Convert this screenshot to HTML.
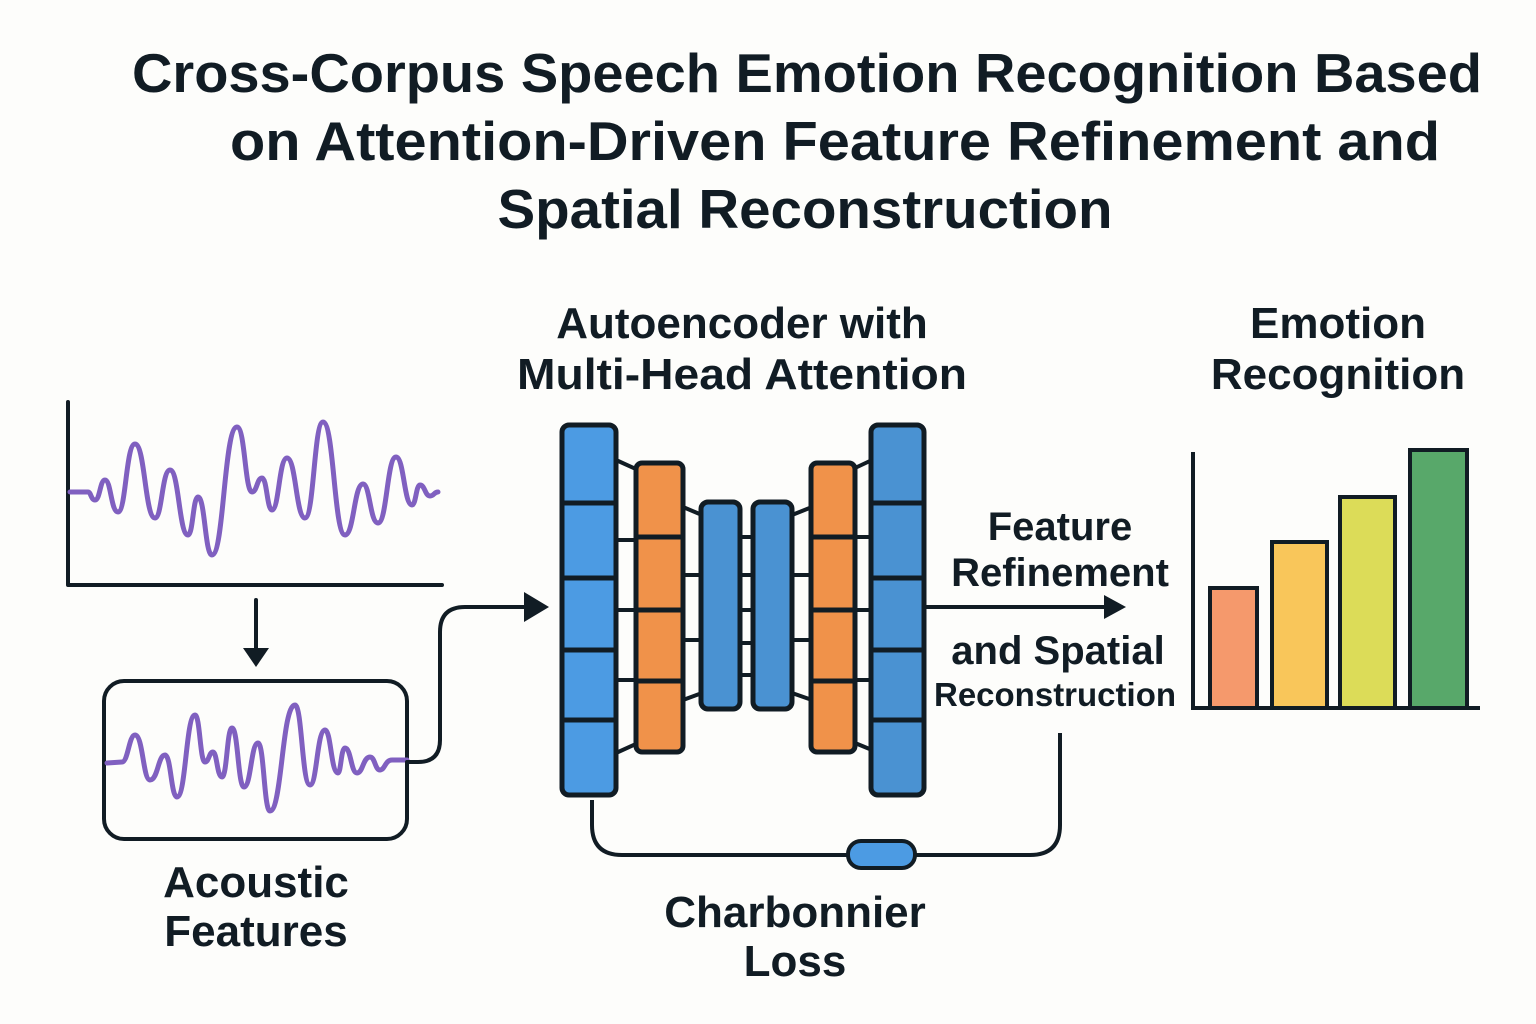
<!DOCTYPE html>
<html><head><style>
body{margin:0;background:#fdfdfb;}
svg{display:block;}
text{font-family:"Liberation Sans",sans-serif;font-weight:bold;fill:#111c24;text-anchor:middle;}
</style></head><body>
<svg width="1536" height="1024" viewBox="0 0 1536 1024">
<rect width="1536" height="1024" fill="#fdfdfb"/>
<text x="807" y="92" font-size="55" textLength="1350" lengthAdjust="spacingAndGlyphs">Cross-Corpus Speech Emotion Recognition Based</text>
<text x="835" y="160" font-size="55" textLength="1210" lengthAdjust="spacingAndGlyphs">on Attention-Driven Feature Refinement and</text>
<text x="805" y="228" font-size="55" textLength="615" lengthAdjust="spacingAndGlyphs">Spatial Reconstruction</text>

<text x="742" y="338" font-size="44">Autoencoder with</text>
<text x="742" y="389" font-size="44" textLength="450" lengthAdjust="spacingAndGlyphs">Multi-Head Attention</text>
<text x="1338" y="338" font-size="44">Emotion</text>
<text x="1338" y="389" font-size="44">Recognition</text>

<g fill="none" stroke-linecap="round" stroke-linejoin="round">
<path d="M68 402 V585 H442" stroke="#111c24" stroke-width="4"/>
<path stroke="#8060c0" stroke-width="5" d="M70 492 L88 492 C91 492 91 500 95 500 C100 500 100 480 105 480 C111 480 111 512 118 512 C126 512 126 444 135 444 C145 444 145 518 155 518 C162 518 162 470 170 470 C179 470 179 535 188 535 C193 535 193 497 198 497 C205 497 205 555 212 555 C224 555 224 427 237 427 C245 427 245 492 252 492 C257 492 257 478 262 478 C267 478 267 510 272 510 C279 510 279 458 287 458 C296 458 296 518 305 518 C314 518 314 422 323 422 C334 422 334 535 345 535 C354 535 354 484 363 484 C370 484 370 523 378 523 C387 523 387 457 396 457 C404 457 404 505 412 505 C416 505 416 485 420 485 C425 485 425 496 430 496 C434 496 434 492 438 492"/>
<path d="M256 600 V650" stroke="#111c24" stroke-width="4"/>
<rect x="104" y="681" width="303" height="158" rx="20" stroke="#111c24" stroke-width="4"/>
<path stroke="#8060c0" stroke-width="5" d="M107 763 L122 762 C128 762 129 735 135 735 C143 735 143 780 150 780 C158 780 158 755 165 755 C171 755 171 797 177 797 C186 797 186 715 195 715 C200 715 200 762 205 762 C209 762 209 752 213 752 C217 752 217 777 222 777 C227 777 227 728 232 728 C238 728 238 787 244 787 C251 787 251 743 258 743 C264 743 264 811 270 811 C282 811 282 705 295 705 C302 705 302 785 310 785 C317 785 317 730 325 730 C331 730 331 773 338 773 C341 773 341 748 345 748 C351 748 351 773 357 773 C363 773 363 757 370 757 C375 757 375 770 380 770 C385 770 385 760 392 760 L407 760"/>
<path d="M407 762 H418 Q440 762 440 740 V632 Q440 607 465 607 H530" stroke="#111c24" stroke-width="4"/>
</g>
<polygon points="243,648 269,648 256,667" fill="#111c24"/>
<polygon points="524,592 549,607 524,622" fill="#111c24"/>
<text x="256" y="897" font-size="44">Acoustic</text>
<text x="256" y="946" font-size="44">Features</text>

<g stroke="#111c24" stroke-width="4">
<line x1="616" y1="460" x2="638" y2="470"/><line x1="616" y1="540" x2="638" y2="540"/><line x1="616" y1="610" x2="638" y2="610"/><line x1="616" y1="680" x2="638" y2="680"/><line x1="616" y1="753" x2="638" y2="743"/>
<line x1="683" y1="507" x2="702" y2="515"/><line x1="683" y1="575" x2="702" y2="575"/><line x1="683" y1="640" x2="702" y2="640"/><line x1="683" y1="700" x2="702" y2="693"/>
<line x1="740" y1="537" x2="754" y2="537"/><line x1="740" y1="575" x2="754" y2="575"/><line x1="740" y1="610" x2="754" y2="610"/><line x1="740" y1="643" x2="754" y2="643"/><line x1="740" y1="675" x2="754" y2="675"/>
<line x1="792" y1="515" x2="812" y2="507"/><line x1="792" y1="575" x2="812" y2="575"/><line x1="792" y1="640" x2="812" y2="640"/><line x1="792" y1="693" x2="812" y2="700"/>
<line x1="855" y1="468" x2="872" y2="460"/><line x1="855" y1="537" x2="872" y2="537"/><line x1="855" y1="610" x2="872" y2="610"/><line x1="855" y1="680" x2="872" y2="680"/><line x1="855" y1="743" x2="872" y2="750"/>
</g>
<g stroke="#111c24" stroke-width="5">
<rect x="562" y="425" width="54" height="370" rx="7" fill="#4c9be3"/>
<path d="M562 503H616M562 578H616M562 650H616M562 720H616"/>
<rect x="636" y="463" width="47" height="289" rx="6" fill="#f0924a"/>
<path d="M636 537H683M636 610H683M636 681H683"/>
<rect x="701" y="502" width="39" height="207" rx="7" fill="#4a92d2"/>
<rect x="753" y="502" width="39" height="207" rx="7" fill="#4a92d2"/>
<rect x="811" y="463" width="44" height="289" rx="6" fill="#f0924a"/>
<path d="M811 537H855M811 610H855M811 681H855"/>
<rect x="871" y="425" width="53" height="370" rx="7" fill="#4a92d2"/>
<path d="M871 503H924M871 578H924M871 650H924M871 720H924"/>
</g>

<line x1="924" y1="607" x2="1108" y2="607" stroke="#111c24" stroke-width="4"/>
<polygon points="1104,595 1126,607 1104,619" fill="#111c24"/>
<text x="1060" y="540" font-size="40">Feature</text>
<text x="1060" y="586" font-size="40">Refinement</text>
<text x="1058" y="664" font-size="40">and Spatial</text>
<text x="1055" y="706" font-size="33">Reconstruction</text>

<path d="M592 800 V825 Q592 855 622 855 H1030 Q1060 855 1060 825 V733" fill="none" stroke="#111c24" stroke-width="4"/>
<rect x="848" y="841" width="67" height="27" rx="13" fill="#4c9be3" stroke="#111c24" stroke-width="4"/>
<text x="795" y="927" font-size="44">Charbonnier</text>
<text x="795" y="976" font-size="44">Loss</text>

<g stroke="#111c24" stroke-width="4">
<rect x="1210" y="588" width="47" height="120" fill="#f5996c"/>
<rect x="1272" y="542" width="55" height="166" fill="#f9c65a"/>
<rect x="1340" y="497" width="55" height="211" fill="#dcdc58"/>
<rect x="1410" y="450" width="57" height="258" fill="#58a86a"/>
<path d="M1193 452 V708 H1480" fill="none"/>
</g>
</svg>
</body></html>
